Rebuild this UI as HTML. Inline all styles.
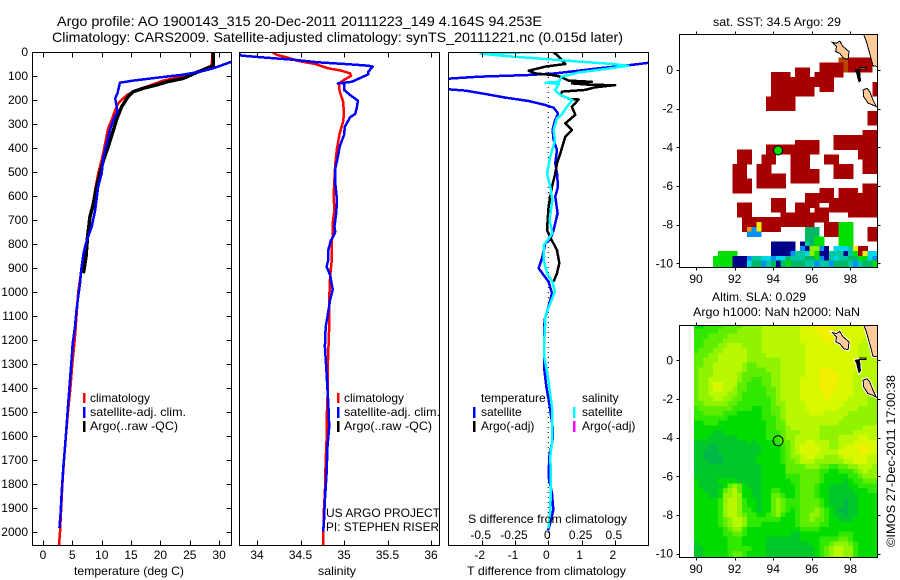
<!DOCTYPE html>
<html lang="en">
<head>
<meta charset="utf-8">
<title>Argo profile</title>
<style>
html,body{margin:0;padding:0;background:#fff;width:900px;height:580px;overflow:hidden}
svg{display:block;font-family:"Liberation Sans",sans-serif;fill:#000}
text{font-size:12px;fill:#000}
.title{font-size:14px}
</style>
</head>
<body>
<svg id="chart" xmlns="http://www.w3.org/2000/svg" width="900" height="580" viewBox="0 0 900 580">
<defs>
<clipPath id="clip-temp"><rect x="32" y="52" width="199" height="493"/></clipPath>
<clipPath id="clip-sal"><rect x="239" y="52" width="200" height="493"/></clipPath>
<clipPath id="clip-diff"><rect x="448" y="52" width="200" height="493"/></clipPath>
<clipPath id="clip-map1"><rect x="679" y="34" width="198" height="233"/></clipPath>
<clipPath id="clip-map2"><rect x="679" y="325" width="198" height="232"/></clipPath>
</defs>
<rect width="900" height="580" fill="#fff"/>
<g id="marks"></g>

<text class="title" x="57" y="26" textLength="485" lengthAdjust="spacingAndGlyphs">Argo profile: AO 1900143_315 20-Dec-2011 20111223_149 4.164S 94.253E</text>
<text class="title" x="52" y="42" textLength="571" lengthAdjust="spacingAndGlyphs">Climatology: CARS2009. Satellite-adjusted climatology: synTS_20111221.nc (0.015d later)</text>

<text x="74" y="575" textLength="110" lengthAdjust="spacingAndGlyphs">temperature (deg C)</text>
<text x="318" y="575" textLength="38" lengthAdjust="spacingAndGlyphs">salinity</text>
<text x="467" y="575" textLength="159" lengthAdjust="spacingAndGlyphs">T difference from climatology</text>
<text x="468" y="523" textLength="159" lengthAdjust="spacingAndGlyphs">S difference from climatology</text>

<g>
<rect x="83" y="393" width="2.5" height="10" fill="#f00"/>
<text x="90" y="402">climatology</text>
<rect x="83" y="407" width="2.5" height="11" fill="#00f"/>
<text x="90" y="416" textLength="96" lengthAdjust="spacingAndGlyphs">satellite-adj. clim.</text>
<rect x="83" y="421" width="2.5" height="11" fill="#000"/>
<text x="90" y="430" textLength="88" lengthAdjust="spacingAndGlyphs">Argo(..raw -QC)</text>
</g>
<g>
<rect x="337" y="393" width="2.5" height="10" fill="#f00"/>
<text x="344" y="402">climatology</text>
<rect x="337" y="407" width="2.5" height="11" fill="#00f"/>
<text x="344" y="416" textLength="96" lengthAdjust="spacingAndGlyphs">satellite-adj. clim.</text>
<rect x="337" y="421" width="2.5" height="11" fill="#000"/>
<text x="344" y="430" textLength="88" lengthAdjust="spacingAndGlyphs">Argo(..raw -QC)</text>
</g>
<text x="326" y="517" textLength="114" lengthAdjust="spacingAndGlyphs">US ARGO PROJECT</text>
<text x="326" y="531" textLength="113" lengthAdjust="spacingAndGlyphs">PI: STEPHEN RISER</text>

<g>
<text x="481" y="402">temperature</text>
<rect x="473" y="407" width="2.5" height="11" fill="#00f"/>
<text x="481" y="416">satellite</text>
<rect x="473" y="421" width="2.5" height="11" fill="#000"/>
<text x="481" y="430">Argo(-adj)</text>
<text x="582" y="402">salinity</text>
<rect x="573" y="407" width="2.5" height="11" fill="#0ff"/>
<text x="582" y="416">satellite</text>
<rect x="573" y="421" width="2.5" height="11" fill="#f0f"/>
<text x="582" y="430">Argo(-adj)</text>
</g>

<text x="713" y="26" textLength="128" lengthAdjust="spacingAndGlyphs">sat. SST: 34.5  Argo: 29</text>
<text x="712" y="301" textLength="94" lengthAdjust="spacingAndGlyphs">Altim. SLA: 0.029</text>
<text x="693" y="316" textLength="167" lengthAdjust="spacingAndGlyphs">Argo h1000: NaN h2000: NaN</text>
<text transform="translate(895,547) rotate(-90)" textLength="172" lengthAdjust="spacingAndGlyphs">©IMOS 27-Dec-2011 17:00:38</text>
</svg>

<script>
const depthTicks = [0,100,200,300,400,500,600,700,800,900,1000,1100,1200,1300,1400,1500,1600,1700,1800,1900,2000];
const tempTicks = [0,5,10,15,20,25,30];
const salTicks = [34,34.5,35,35.5,36];
const tDiffTicks = [-2,-1,0,1,2];
const sDiffTicks = [-0.5,-0.25,0,0.25,0.5];
const lonTicks = [90,92,94,96,98];
const latTicks = [0,-2,-4,-6,-8,-10];

const climTempDepth = [0,47,58,78,100,119,144,165,179,214,242,283,318,381,450,506,561,617,686,769,900,1000,1100,1200,1300,1400,1500,1600,1700,1800,1900,2000,2054];
const climTempValues = [28.9,28.75,28.6,26.8,23.9,20.5,17.7,15.4,14.3,12.8,12.3,11.7,11.1,10.6,10,9.4,9,8.6,8.1,7.6,6.6,6,5.7,5.4,5,4.66,4.26,3.9,3.58,3.3,3.1,2.9,2.73];
const argoTempDepth = [0,58,68,85,110,124,137,151,165,186,228,276,325,394,450,506,575,631,686,769,783,852,922];
const argoTempValues = [29,29,27.9,26.2,23.9,21.1,19.4,17.1,15.4,14.5,13.4,12.6,12,11.1,10.3,9.7,9,8.6,8,7.6,7.55,7.33,6.88];
const satTempDepth = [40,68,82,96,107,119,128,172,193,249,283,325,381,436,506,561,658,728,776,797,839,908,964,1019,1075,1144,1214,1269,1366,1464,1561,1630,1727,1825,1922,1984];
const satTempValues = [32.2,29,26.8,23.4,19.4,15.4,13.1,12.7,12.3,12.7,12,11.4,10.85,10.3,10,9.4,8.9,8.3,7.6,7.33,6.9,6.5,6.3,6,5.7,5.45,5.06,4.9,4.6,4.3,4,3.8,3.47,3.2,3,2.8];

const climSalDepth = [0,12,24,38,50,68,78,89,99,119,131,165,207,256,290,339,401,464,533,603,658,714,769,783,866,935,1033,1144,1250,1335,1439,1539,1616,1700,1839,1900,2054];
const climSalValues = [34.17,34.23,34.36,34.48,34.67,34.82,34.97,35.07,35.08,34.99,34.94,34.95,34.99,35,34.99,34.95,34.92,34.9,34.89,34.88,34.89,34.87,34.87,34.86,34.86,34.84,34.83,34.83,34.82,34.81,34.81,34.8,34.8,34.79,34.78,34.77,34.76];
const satSalDepth = [8,15,22,33,43,50,57,61,82,93,106,124,131,131,158,179,203,228,258,272,311,346,394,436,485,547,617,672,728,749,781,783,825,866,894,929,991,1033,1102,1144,1227,1339,1408,1464,1561,1644,1755,1866,1950,1998];
const satSalValues = [33.8,33.82,34.05,34.44,34.7,35.01,35.28,35.33,35.28,35.28,35.2,35.09,34.93,35,35,35.07,35.16,35.15,35.13,35.07,35.01,35,34.95,34.93,34.9,34.9,34.92,34.91,34.89,34.9,34.86,34.85,34.82,34.82,34.8,34.84,34.87,34.84,34.81,34.79,34.78,34.8,34.81,34.82,34.83,34.81,34.8,34.78,34.77,34.76];

const satTDiffDepth = [44,57,68,78,89,96,103,111,131,156,161,175,190,204,221,232,256,290,325,367,408,464,506,561,603,672,742,781,797,859,901,929,957,1005,1033,1082,1116,1200,1311,1394,1464,1561,1616,1686,1770,1839,1909,1978,1992];
const satTDiffValues = [3.06,2.31,1.51,0.91,0.21,-0.59,-2.09,-2.97,-3.69,-2.97,-2.49,-1.89,-1.29,-0.59,-0.09,0.16,0.29,0.19,0.13,0.16,0.26,0.21,0.26,0.29,0.21,0.28,0.16,0.06,-0.09,-0.19,-0.29,-0.14,0.01,0.11,0.06,-0.04,-0.11,-0.13,-0.13,-0.06,0.03,0.13,0.13,0.03,0.01,0.11,0.15,0.03,-0.01];
const argoTDiffDepth = [0,26,50,61,78,89,96,103,119,124,131,137,138,147,158,165,179,197,198,228,262,297,325,353,422,464,506,561,644,742,781,825,880,922,957];
const argoTDiffValues = [0.16,0.36,0.51,-0.09,-0.59,-0.39,0.11,0.36,0.61,1.31,0.71,1.31,2.01,1.41,1.11,0.41,0.36,0.66,0.91,0.71,0.81,0.51,0.71,0.51,0.36,0.26,0.21,0.11,0.01,-0.04,0.09,0.26,0.33,0.26,0.16];
const satSDiffDepth = [0,7,19,29,40,50,57,71,85,103,124,128,133,158,179,200,228,262,276,325,367,408,436,506,561,617,700,756,781,804,866,922,957,998,1047,1095,1200,1269,1366,1491,1616,1686,1784,1909,1985];
const satSDiffValues = [-0.085,-0.51,-0.27,-0.02,0.23,0.48,0.6,0.43,0.23,0.1,0.08,-0.02,0.08,0.05,0.09,0.18,0.14,0.1,0.065,0.04,0.05,0.03,0.015,-0.01,0.015,0.03,0.01,0.03,0,-0.035,-0.035,-0.01,0.03,0.05,0.015,-0.02,-0.03,-0.03,0,0.03,0.03,0.015,0.02,0.015,0];

const argoLon = [94.253];
const argoLat = [-4.164];

const _ = null;
const sstPalette = ["#000088","#0090f8","#00d8e8","#00c8a0","#00b868","#00e000","#88f000","#f0f000","#b84400","#a80000","#ff9a00"];
const sstRows = [
[],[],[],[],[],
[_,_,_,_,_,_,_,_,_,_,_,_,_,_,_,_,_,_,_,_,_,_,_,_,_,_,_,_,_,_,_,_,_,8,8,9,9,9,9,9],
[_,_,_,_,_,_,_,_,_,_,_,_,_,_,_,_,_,_,_,_,_,_,_,_,_,_,_,_,_,9,9,9,9,9,8,9,9,9,9,9],
[_,_,_,_,_,_,_,_,_,_,_,_,_,_,_,_,_,_,_,_,_,_,_,_,9,9,9,_,_,9,9,9,9,9,8,9,9,9,9,9],
[_,_,_,_,_,_,_,_,_,_,_,_,_,_,_,_,_,_,_,9,9,9,9,_,9,9,9,_,9,9,9,9,9,9],
[_,_,_,_,_,_,_,_,_,_,_,_,_,_,_,_,_,_,_,9,9,9,9,9,9,9,9,9,9,9,9,9],
[_,_,_,_,_,_,_,_,_,_,_,_,_,_,_,_,_,_,_,9,9,9,9,9,9,9,9,9,9,9,9,9,_,_,_,_,_,_,_,_,9],
[_,_,_,_,_,_,_,_,_,_,_,_,_,_,_,_,_,_,_,9,9,9,9,9,9,9,9,9,_,9,9,9,_,_,_,_,_,_,_,_,9],
[_,_,_,_,_,_,_,_,_,_,_,_,_,_,_,_,_,_,_,9,9,9,9,9,9,9,9,9,_,_,_,_,_,_,_,_,_,_,_,_,9],
[_,_,_,_,_,_,_,_,_,_,_,_,_,_,_,_,_,_,9,9,9,9,9,9],
[_,_,_,_,_,_,_,_,_,_,_,_,_,_,_,_,_,_,9,9,9,9,9,9],
[_,_,_,_,_,_,_,_,_,_,_,_,_,_,_,_,_,_,9,9,9,9,9,9],
[_,_,_,_,_,_,_,_,_,_,_,_,_,_,_,_,_,_,_,_,_,_,_,_,_,_,_,_,_,_,_,_,_,_,_,_,_,_,_,9,9],
[_,_,_,_,_,_,_,_,_,_,_,_,_,_,_,_,_,_,_,_,_,_,_,_,_,_,_,_,_,_,_,_,_,_,_,_,_,_,_,9,9],
[_,_,_,_,_,_,_,_,_,_,_,_,_,_,_,_,_,_,_,_,_,_,_,_,_,_,_,_,_,_,_,_,_,_,_,_,_,_,_,9,9],
[],
[_,_,_,_,_,_,_,_,_,_,_,_,_,_,_,_,_,_,_,_,_,_,_,_,_,_,_,_,_,_,_,_,_,_,_,_,_,_,9,9,9],
[_,_,_,_,_,_,_,_,_,_,_,_,_,_,_,_,_,_,_,_,_,_,_,_,_,_,_,_,_,_,_,_,9,9,9,9,9,9,9,9,9],
[_,_,_,_,_,_,_,_,_,_,_,_,_,_,_,_,_,_,_,_,_,_,_,_,9,9,9,9,9,_,_,_,9,9,9,9,9,9,9,9,9],
[_,_,_,_,_,_,_,_,_,_,_,_,_,_,_,_,_,_,9,9,9,9,9,9,9,9,9,9,9,_,_,_,9,9,9,9,9,9,9,9,9],
[_,_,_,_,_,_,_,_,_,_,_,_,9,9,9,_,_,_,9,9,9,9,9,9,9,9,9,9,9,_,_,_,_,_,_,_,_,9,9,9,9],
[_,_,_,_,_,_,_,_,_,_,_,_,9,9,9,_,_,9,9,9,_,_,_,9,9,9,9,_,_,_,9,9,9,_,_,_,_,9,9,9,9],
[_,_,_,_,_,_,_,_,_,_,_,_,9,9,9,_,_,9,9,9,_,_,_,9,9,9,9,_,_,_,9,9,9,_,_,_,_,_,9,9,9],
[_,_,_,_,_,_,_,_,_,_,_,9,9,9,_,_,9,9,9,_,_,_,_,9,9,9,9,_,_,_,_,_,9,9,9,9,_,_,9,9,9],
[_,_,_,_,_,_,_,_,_,_,_,9,9,9,_,_,9,9,9,_,_,_,_,9,9,9,9,9,9,_,_,_,9,9,9,9,_,_,9,9,9],
[_,_,_,_,_,_,_,_,_,_,_,9,9,9,_,_,9,9,9,9,9,9,_,9,9,9,9,9,9,_,_,_,9,9,9,9],
[_,_,_,_,_,_,_,_,_,_,_,9,9,9,9,_,9,9,9,9,9,9,_,9,9,9,9,9,9],
[_,_,_,_,_,_,_,_,_,_,_,9,9,9,9,_,9,9,9,9,9,9,_,_,_,_,_,_,_,_,_,_,_,_,_,_,_,_,9,9,9],
[_,_,_,_,_,_,_,_,_,_,_,9,9,9,9,_,_,_,_,_,_,_,_,_,_,_,_,_,_,9,9,9,_,9,9,9,9,_,9,9,9],
[_,_,_,_,_,_,_,_,_,_,_,_,_,_,_,_,_,_,_,_,_,_,_,_,_,_,9,9,9,9,9,9,_,9,9,9,9,9,9,9,9],
[_,_,_,_,_,_,_,_,_,_,_,_,_,_,_,_,_,_,_,9,9,9,_,_,_,_,9,9,9,9,9,9,9,9,9,9,9,9,9,9,9],
[_,_,_,_,_,_,_,_,_,_,_,_,9,9,9,_,_,_,_,9,9,9,_,_,9,9,9,9,9,_,_,9,9,9,9,9,9,9,9,9,9],
[_,_,_,_,_,_,_,_,_,_,_,_,9,9,9,_,_,_,_,9,9,9,_,_,9,9,9,_,9,9,9,9,9,9,9,9,9,9,9,9,9],
[_,_,_,_,_,_,_,_,_,_,_,_,9,9,9,_,_,_,_,_,_,9,9,9,9,9,9,9,9,9,9,_,_,_,_,9,9,9,9,9,9],
[_,_,_,_,_,_,_,_,_,_,_,_,_,9,9,9,9,9,9,9,9,9,9,9,9,9,9,9,9,9,9],
[_,_,_,_,_,_,_,_,_,_,_,_,_,9,9,9,7,9,9,9,9,9,9,9,9,9,9,9,_,_,9,9,9,5,5,5],
[_,_,_,_,_,_,_,_,_,_,_,_,_,9,10,1,7,9,9,9,9,_,_,_,_,_,4,4,4,_,9,9,9,5,5,5,_,_,_,9,9],
[_,_,_,_,_,_,_,_,_,_,_,_,_,_,1,1,1,_,_,_,_,_,_,_,_,_,4,4,4,_,9,9,9,5,5,5,_,_,_,9,9],
[_,_,_,_,_,_,_,_,_,_,_,_,_,_,_,_,_,_,_,_,_,_,_,_,_,_,4,4,5,5,_,_,_,5,5,5,_,_,_,9,9],
[_,_,_,_,_,_,_,_,_,_,_,_,_,_,_,_,_,_,_,0,0,0,0,0,_,0,3,4,5,5,_,_,_,5,5,5],
[_,_,_,_,_,_,_,_,_,_,_,_,_,_,_,_,_,_,_,0,0,0,0,0,_,1,0,6,6,1,0,_,2,2,2,3,7,9,9],
[_,_,_,_,_,_,_,_,5,5,5,5,_,_,_,_,_,_,_,0,0,0,0,1,3,3,2,6,5,0,0,3,3,3,0,3,5,9,7,2,2],
[_,_,_,_,_,_,_,5,5,5,5,0,0,0,1,3,3,2,2,1,2,2,4,3,3,3,4,4,5,1,0,3,2,3,3,4,4,5,5,2,1],
[_,_,_,_,_,_,_,5,5,5,5,0,0,0,2,4,4,1,3,4,0,4,5,4,4,4,3,3,1,3,3,1,4,4,4,3,1,3,4,4,5],
[_,_,_,_,_,_,_,5,5,5,5,0,0,0,2,4,4,1,3,4,0,4,5,4,4,4,3,3,1,3,3,1,4,4,4,3,1,3,4,4,5]
];

const slaPalette = ["#00b848","#00c828","#00dc00","#30e800","#60ee00","#90f400","#b8f800","#d8f800","#f0f000"];
const slaRows = [
[2,2,3,3,3,3,4,4,4,4,5,5,5,5,6,6,6,6,6,6,6,6,7,7,7,8,8,8,8,7,7,7,7,7,7,7,7,7],
[3,3,3,3,3,4,4,4,4,5,5,5,5,5,6,6,6,6,6,6,6,6,7,7,7,8,8,8,8,7,7,7,7,7,7,7,7,7],
[3,3,3,4,4,4,4,5,5,5,5,5,5,5,6,6,6,6,6,6,6,6,7,7,7,7,8,8,8,7,7,7,7,7,7,7,6,6],
[3,3,4,4,4,4,5,5,5,5,5,5,5,5,6,6,6,6,6,6,6,6,7,7,7,7,7,8,8,7,7,7,7,7,7,6,6,6],
[3,3,4,4,4,5,5,6,6,6,5,5,5,5,6,6,6,6,6,6,6,6,6,7,7,7,7,7,7,7,7,7,7,7,6,6,6,6],
[3,4,4,4,5,5,6,6,6,6,6,5,5,5,6,6,6,6,6,6,6,6,6,7,7,7,7,7,7,7,7,7,7,7,6,6,6,6],
[4,4,4,5,5,6,6,6,6,6,6,5,5,5,5,6,6,6,6,6,6,6,6,7,7,7,7,7,7,7,7,7,7,7,6,6,6,6],
[4,4,5,5,5,6,6,6,6,6,6,5,5,5,5,5,5,5,6,6,6,6,6,7,7,7,7,7,7,7,7,7,7,7,6,6,6,6],
[4,4,5,5,6,6,6,6,6,6,5,4,4,5,5,5,5,5,6,6,6,6,6,7,7,7,7,7,7,7,7,7,7,7,6,6,6,6],
[4,5,5,5,6,6,6,6,6,6,5,4,4,4,4,5,5,5,6,6,6,6,6,7,7,7,8,8,8,7,7,7,7,7,6,6,6,6],
[4,5,5,5,6,6,6,6,6,5,4,4,4,4,4,4,5,5,6,6,6,6,6,7,7,7,8,8,8,8,7,7,7,6,6,6,6,6],
[4,5,5,6,6,6,6,6,6,5,4,4,3,3,4,4,5,5,6,6,6,6,7,7,7,7,8,8,8,8,7,7,7,6,6,6,6,6],
[4,5,5,6,7,7,6,6,6,4,4,3,3,3,4,4,5,5,6,6,6,6,7,7,7,7,8,8,8,8,7,7,7,6,6,6,6,6],
[4,5,5,6,7,7,6,6,5,4,4,3,3,3,3,4,4,5,6,6,6,6,7,7,7,7,8,8,8,7,7,7,7,6,6,6,6,6],
[4,5,5,6,6,6,6,5,5,4,3,3,3,3,3,4,4,5,6,6,6,6,7,7,7,7,7,8,8,7,7,7,7,6,6,6,6,6],
[4,5,5,5,6,6,5,5,4,4,3,3,3,3,3,3,4,5,6,6,6,6,7,7,7,7,7,8,7,7,7,7,6,6,6,6,5,5],
[4,4,5,5,5,5,5,4,4,3,3,3,3,3,3,3,4,5,5,6,6,6,6,7,7,7,7,7,7,7,7,6,6,6,6,6,5,5],
[3,4,4,4,4,4,4,4,3,3,3,3,2,2,3,3,4,4,5,6,6,6,6,7,7,7,7,7,7,7,6,6,6,6,5,5,5,5],
[3,3,4,4,4,4,3,3,3,2,2,2,2,2,3,3,4,4,5,6,6,6,6,6,7,7,7,6,6,6,6,6,5,5,5,5,5,5],
[3,3,3,3,3,3,3,2,2,2,2,2,2,2,3,3,3,4,5,6,6,6,6,6,6,6,6,6,6,6,6,5,5,5,5,5,5,5],
[2,2,3,3,3,2,2,2,2,2,2,2,2,2,2,3,3,4,4,6,6,6,6,6,6,6,6,6,6,6,5,5,5,5,5,5,5,5],
[2,2,2,2,2,2,2,2,2,2,2,2,2,2,2,3,3,4,4,5,6,6,6,6,6,6,5,5,5,5,5,5,5,5,5,6,6,6],
[2,2,2,2,1,1,2,2,2,2,2,2,2,2,2,3,3,3,4,5,5,5,6,6,6,6,5,5,5,5,5,5,5,6,6,6,6,6],
[2,2,2,1,1,1,1,1,1,2,2,2,2,2,2,3,3,3,4,5,5,6,6,6,6,6,5,5,5,5,6,6,6,6,7,7,6,6],
[1,1,1,1,1,1,1,1,1,1,1,2,1,2,2,2,2,3,4,4,5,6,6,7,7,6,6,6,5,5,6,6,6,7,7,7,7,7],
[1,1,1,0,0,1,1,1,1,1,1,1,1,1,2,2,2,2,3,4,5,6,7,7,7,7,6,6,5,5,6,7,7,7,8,8,7,7],
[1,1,0,0,0,1,1,1,1,1,1,1,1,1,2,2,2,2,3,4,5,6,7,7,7,7,6,6,6,6,7,7,7,7,8,8,7,7],
[1,1,0,0,0,0,1,1,1,1,1,1,1,2,2,2,2,2,3,4,5,5,6,7,7,6,6,5,5,5,6,7,7,7,7,7,6,6],
[1,1,1,0,0,0,1,1,1,1,1,1,1,2,2,2,2,2,3,4,4,5,6,6,6,5,5,5,5,5,5,6,6,7,7,7,6,6],
[1,1,1,1,1,1,1,1,1,1,1,1,1,1,2,2,2,2,2,4,4,4,4,5,5,5,4,4,3,3,4,4,5,5,6,6,6,5],
[1,1,1,1,1,1,1,1,1,1,1,1,1,1,2,2,2,2,2,4,4,4,4,4,4,4,3,3,2,2,3,3,3,4,5,6,5,5],
[1,1,1,1,1,1,1,1,1,1,1,1,1,1,2,2,2,2,2,3,3,3,4,4,4,4,3,2,2,2,2,2,3,3,4,5,5,5],
[2,1,1,1,1,2,2,2,2,1,1,1,1,1,2,2,2,2,2,2,3,3,4,4,4,4,3,2,2,2,2,1,2,3,3,4,4,4],
[2,1,1,1,1,1,2,4,5,4,2,1,1,1,2,2,2,2,2,2,2,3,4,4,4,3,2,2,1,1,1,1,2,2,3,3,3,3],
[2,2,1,1,1,2,4,5,6,4,2,2,1,1,2,2,3,3,2,2,2,3,4,4,4,3,2,2,1,1,1,1,1,2,2,2,3,3],
[2,2,2,1,1,2,5,5,6,5,2,2,1,1,2,2,4,4,3,2,2,3,4,4,4,3,2,2,1,1,1,1,1,1,2,2,2,2],
[2,2,2,2,2,3,5,6,6,5,3,2,2,1,2,2,4,5,4,3,3,3,4,4,4,4,3,2,1,1,1,0,1,1,2,2,2,2],
[2,2,2,2,2,3,5,6,6,5,3,2,2,1,2,2,4,5,4,3,3,3,4,4,4,4,3,2,1,1,1,0,1,1,2,2,2,2],
[2,2,2,2,2,3,5,6,6,5,3,3,2,1,2,2,4,5,4,3,2,3,4,4,4,5,4,3,2,1,0,0,1,1,2,2,2,2],
[2,2,2,2,2,3,5,6,6,5,4,3,3,2,2,3,4,5,3,2,2,3,4,4,5,5,4,3,2,1,1,0,1,1,2,2,2,2],
[2,2,2,2,2,3,4,5,6,6,5,3,3,3,3,3,3,3,2,2,2,3,4,4,5,4,4,3,2,2,1,1,1,2,2,2,2,2],
[2,2,2,2,2,3,4,5,6,6,5,3,3,3,2,2,2,2,2,2,2,3,4,4,4,4,3,3,2,2,2,2,2,2,2,2,2,2],
[2,2,2,2,2,2,3,4,5,5,3,2,2,2,2,2,2,2,2,2,2,2,3,3,3,3,2,2,2,2,2,2,2,2,2,2,2,2],
[2,2,2,2,2,2,3,3,4,4,3,2,2,2,2,2,2,2,2,2,1,1,2,2,2,2,2,2,2,2,3,3,3,2,2,2,2,2],
[2,2,2,2,2,2,2,3,3,3,2,2,2,2,2,1,1,1,1,1,1,1,2,2,2,2,3,3,3,3,4,4,3,2,2,2,2,2],
[1,2,2,2,2,2,2,3,3,3,2,2,2,2,2,1,1,1,1,1,1,1,1,1,2,2,3,3,4,5,5,5,4,3,2,2,2,2],
[1,1,2,2,2,2,2,3,3,3,3,3,2,2,2,1,1,1,1,1,1,1,1,1,1,2,3,4,5,6,6,5,5,3,2,2,2,2],
[1,1,2,2,2,2,2,3,4,4,3,2,2,2,2,1,1,1,1,1,1,1,1,1,1,2,3,4,5,6,6,5,5,3,2,2,2,2],
[1,1,2,2,2,2,2,3,4,4,3,2,2,2,2,1,1,1,1,1,1,1,1,1,1,2,3,4,5,6,6,5,5,3,2,2,2,2]
];

const landNias = [[97.07,1.43],[97.28,1.38],[97.45,1.5],[97.59,1.24],[97.79,1.07],[97.93,0.95],[97.88,0.55],[97.66,0.6],[97.45,0.86],[97.24,0.95],[97.28,1.21]];
const landSumatra = [[98.69,1.84],[99.5,1.84],[99.5,0.17],[99.17,0.21],[99,0.86],[98.83,1.47]];
const landSiberut = [[98.66,-1.03],[98.86,-0.95],[99,-1.12],[99.17,-1.55],[99.34,-1.9],[99.17,-1.81],[98.91,-1.72],[98.69,-1.38]];
const landSmallA = [[98.25,0],[98.45,0.03],[98.5,-0.2],[98.52,-0.55],[98.45,-0.62],[98.38,-0.4],[98.33,-0.17]];
const landSmallB = [[98.5,0.12],[98.8,0.12],[98.8,0.05],[98.5,0.05]];

const SVGNS = "http://www.w3.org/2000/svg";
const root = document.getElementById("marks");
const yDepth = d => 52 + 0.24 * d;
const xTemp = t => 43 + 5.87 * t;
const xSal = s => 257 + 87 * (s - 34);
const xTDiff = v => 548.3 + 33.3 * v;
const xSDiff = v => 548.3 + 133.2 * v;
const xLon = lon => 696 + 19.3 * (lon - 90);
const yLat1 = lat => 70 - 19.33 * lat;
const yLat2 = lat => 360.3 - 19.33 * lat;
const firstCellLon = 89.136, firstCellLat = 1.888, cellDeg = 0.25;

function make(tag, attrs, parent) {
  const el = document.createElementNS(SVGNS, tag);
  for (const k in attrs) el.setAttribute(k, attrs[k]);
  (parent || root).appendChild(el);
  return el;
}
function drawProfile(depths, values, xFn, color, width, clipId, name) {
  const pts = depths.map((d, i) => xFn(values[i]).toFixed(1) + "," + yDepth(d).toFixed(1)).join(" ");
  const el = make("polyline", {points: pts, fill: "none", stroke: color, "stroke-width": width, "clip-path": "url(#" + clipId + ")", "shape-rendering": "crispEdges", "stroke-linejoin": "round"});
  
  
}
function frame(x, y, w, h, name) {
  const el = make("rect", {x: x + 0.5, y: y + 0.5, width: w, height: h, fill: "none", stroke: "#000", "stroke-width": 1, "shape-rendering": "crispEdges"});
  
  
}
function tick(x1, y1, x2, y2) {
  const el = make("line", {x1: Math.round(x1) + 0.5, y1: Math.round(y1) + 0.5, x2: Math.round(x2) + 0.5, y2: Math.round(y2) + 0.5, stroke: "#000", "stroke-width": 1, "shape-rendering": "crispEdges"});
  
  
}
function label(x, y, str, anchor) {
  const el = make("text", {x: x, y: y, "text-anchor": anchor});
  el.textContent = str;
  
  
}

/* SST heatmap */
sstRows.forEach((row, r) => {
  row.forEach((v, c) => {
    if (v === null) return;
    const x0 = xLon(firstCellLon + c * cellDeg), x1 = xLon(firstCellLon + (c + 1) * cellDeg);
    const y0 = yLat1(firstCellLat - r * cellDeg), y1 = yLat1(firstCellLat - (r + 1) * cellDeg);
    const el = make("rect", {x: x0.toFixed(2), y: y0.toFixed(2), width: (x1 - x0 + 0.3).toFixed(2), height: (y1 - y0 + 0.3).toFixed(2), fill: sstPalette[v], "clip-path": "url(#clip-map1)", "shape-rendering": "crispEdges"});
    
    
  });
});
/* SLA heatmap; its first grid column is the fourth column of the map grid */
const slaFirstCol = 3;
slaRows.forEach((row, r) => {
  row.forEach((v, c) => {
    const x0 = xLon(firstCellLon + (c + slaFirstCol) * cellDeg), x1 = xLon(firstCellLon + (c + slaFirstCol + 1) * cellDeg);
    const y0 = yLat2(firstCellLat - r * cellDeg), y1 = yLat2(firstCellLat - (r + 1) * cellDeg);
    const el = make("rect", {x: x0.toFixed(2), y: y0.toFixed(2), width: (x1 - x0 + 0.3).toFixed(2), height: (y1 - y0 + 0.3).toFixed(2), fill: slaPalette[v], "clip-path": "url(#clip-map2)", "shape-rendering": "crispEdges"});
    
    
  });
});
/* Land */
function drawLand(poly, yFn, clipId, fill, halo, name) {
  const pts = poly.map(p => xLon(p[0]).toFixed(1) + "," + yFn(p[1]).toFixed(1)).join(" ");
  if (halo) {
    const h = make("polygon", {points: pts, fill: "none", stroke: "#fff", "stroke-width": 3, "clip-path": "url(#" + clipId + ")"});
    
    
  }
  const el = make("polygon", {points: pts, fill: fill, stroke: "#000", "stroke-width": 1, "clip-path": "url(#" + clipId + ")", "shape-rendering": "crispEdges"});
  
  
}
[[yLat1, "clip-map1", false], [yLat2, "clip-map2", true]].forEach(m => {
  drawLand(landNias, m[0], m[1], "#ffcc99", m[2], "island-nias");
  drawLand(landSumatra, m[0], m[1], "#ffcc99", m[2], "land-sumatra");
  drawLand(landSiberut, m[0], m[1], "#ffcc99", m[2], "island-siberut");
  drawLand(landSmallA, m[0], m[1], "#000", m[2], "islet-group");
  drawLand(landSmallB, m[0], m[1], "#ffcc99", false, "islet");
});
/* Float position */
const dot = make("circle", {cx: xLon(argoLon[0]), cy: yLat1(argoLat[0]), r: 4.5, fill: "#00e000", stroke: "#000", "stroke-width": 1});


const ring = make("circle", {cx: xLon(argoLon[0]), cy: yLat2(argoLat[0]), r: 5, fill: "none", stroke: "#000", "stroke-width": 1});



/* Zero line in difference panel */
const zero = make("line", {x1: xTDiff(0), y1: 52, x2: xTDiff(0), y2: 545, stroke: "#000", "stroke-width": 1, "stroke-dasharray": "1 4"});



/* Profiles */
drawProfile(climTempDepth, climTempValues, xTemp, "#f00", 2.5, "clip-temp", "temperature-climatology-line");
drawProfile(argoTempDepth, argoTempValues, xTemp, "#000", 3.5, "clip-temp", "temperature-argo-line");
drawProfile(satTempDepth, satTempValues, xTemp, "#00f", 2.5, "clip-temp", "temperature-satellite-line");
drawProfile(climSalDepth, climSalValues, xSal, "#f00", 2.5, "clip-sal", "salinity-climatology-line");
drawProfile(satSalDepth, satSalValues, xSal, "#00f", 2.5, "clip-sal", "salinity-satellite-line");
drawProfile(satTDiffDepth, satTDiffValues, xTDiff, "#00f", 2.5, "clip-diff", "t-difference-satellite-line");
drawProfile(argoTDiffDepth, argoTDiffValues, xTDiff, "#000", 2.5, "clip-diff", "t-difference-argo-line");
drawProfile(satSDiffDepth, satSDiffValues, xSDiff, "#0ff", 2.5, "clip-diff", "s-difference-satellite-line");

/* Frames */
frame(32, 52, 199, 493, "temperature-panel-frame");
frame(239, 52, 200, 493, "salinity-panel-frame");
frame(448, 52, 200, 493, "difference-panel-frame");
frame(679, 34, 198, 233, "sst-map-frame");
frame(679, 325, 198, 232, "sla-map-frame");

/* Axes of profile panels */
depthTicks.forEach(d => {
  tick(32, yDepth(d), 37, yDepth(d));
  tick(231, yDepth(d), 226, yDepth(d));
  label(28, yDepth(d) + 4, String(d), "end");
});
tempTicks.forEach(t => {
  tick(xTemp(t), 52, xTemp(t), 57);
  tick(xTemp(t), 545, xTemp(t), 540);
  label(xTemp(t), 559, String(t), "middle");
});
salTicks.forEach(s => {
  tick(xSal(s), 52, xSal(s), 57);
  tick(xSal(s), 545, xSal(s), 540);
  label(xSal(s), 559, String(s), "middle");
});
tDiffTicks.forEach(v => {
  tick(xTDiff(v), 52, xTDiff(v), 57);
  tick(xTDiff(v), 545, xTDiff(v), 540);
  label(xTDiff(v) - 2, 559, String(v), "middle");
});
sDiffTicks.forEach(v => {
  label(xSDiff(v) - 1, 539, String(v), "middle");
});
/* Axes of maps */
lonTicks.forEach(lon => {
  tick(xLon(lon), 34, xLon(lon), 31);
  tick(xLon(lon), 267, xLon(lon), 270);
  label(xLon(lon), 283, String(lon), "middle");
  tick(xLon(lon), 325, xLon(lon), 322);
  tick(xLon(lon), 557, xLon(lon), 560);
  label(xLon(lon), 573, String(lon), "middle");
});
latTicks.forEach(lat => {
  tick(679, yLat1(lat), 676, yLat1(lat));
  tick(877, yLat1(lat), 880, yLat1(lat));
  label(673, yLat1(lat) + 4, String(lat), "end");
  tick(679, yLat2(lat), 676, yLat2(lat));
  tick(877, yLat2(lat), 880, yLat2(lat));
  label(673, yLat2(lat) + 4, String(lat), "end");
});
</script>
</body>
</html>
